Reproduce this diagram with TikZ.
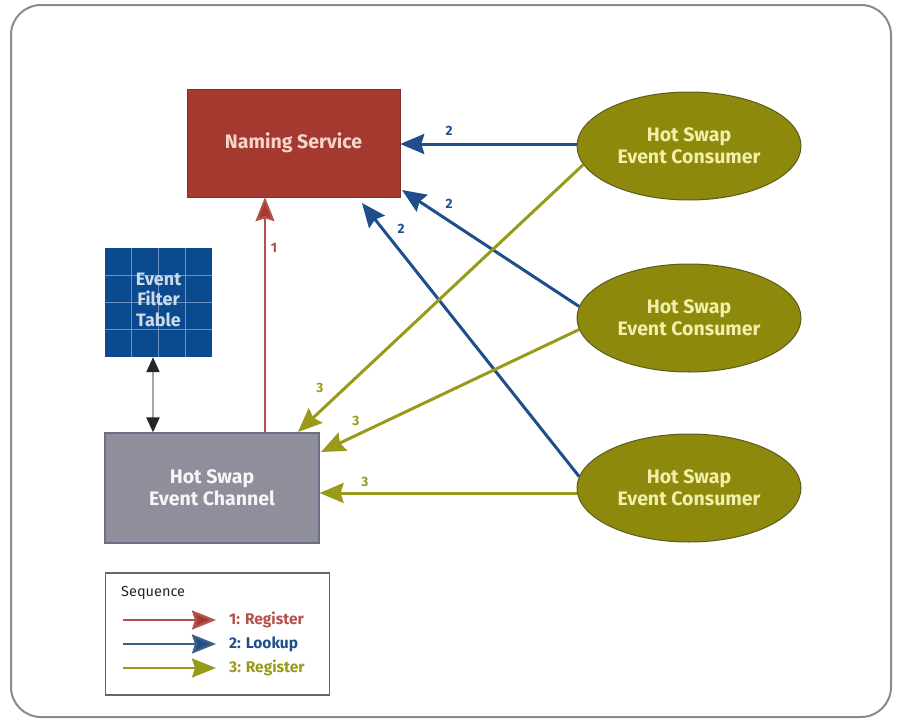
\documentclass[tikz,border=0pt]{standalone}
\usepackage{fontspec}
\setmainfont{Fira Sans}
\usetikzlibrary{arrows.meta,calc,shapes.geometric}
\definecolor{nsred}{HTML}{A43A2F}
\definecolor{nstext}{HTML}{F6D4CC}
\definecolor{ftblue}{HTML}{0B4A8E}
\definecolor{ftline}{HTML}{6E92C4}
\definecolor{chgray}{HTML}{8F8F9C}
\definecolor{chborder}{HTML}{6E6E8A}
\definecolor{elfill}{HTML}{8C890C}
\definecolor{elborder}{HTML}{5E5A1E}
\definecolor{eltext}{HTML}{F2F0A8}
\definecolor{redarr}{HTML}{B5504A}
\definecolor{bluearr}{HTML}{1F4E8C}
\definecolor{olivearr}{HTML}{9A9A1A}
\definecolor{framegray}{HTML}{8A8A8A}
\tikzset{
  boxnode/.style={rectangle, inner sep=0pt, align=center, font=\bfseries\fontsize{19.5}{22}\selectfont},
  consumer/.style={ellipse, fill=elfill, draw=elborder, line width=1pt, minimum width=224pt, minimum height=108pt, inner sep=0pt, align=center, text=eltext, font=\bfseries\fontsize{19.5}{22}\selectfont},
  conn/.style={line width=3pt, -{Stealth[length=24pt,width=20pt,inset=3pt]}},
  redconn/.style={line width=2.2pt, draw=redarr, -{Stealth[length=24pt,width=19pt,inset=3pt,fill=nsred]}},
  blueconn/.style={conn, draw=bluearr},
  oliveconn/.style={conn, draw=olivearr},
  lbl/.style={font=\bfseries\fontsize{13.5}{16}\selectfont, inner sep=0pt},
  legtext/.style={font=\bfseries\fontsize{15.5}{18}\selectfont, anchor=west, inner sep=0pt}
}
\begin{document}
\begin{tikzpicture}[x=1pt,y=-1pt]
\useasboundingbox (0,0) rectangle (897,720);
% frame
\draw[framegray, line width=2pt, rounded corners=30pt] (11,5) rectangle (891,717);

% nodes
\node[boxnode, fill=nsred, draw=nsred!80!black, line width=0.5pt, minimum width=213pt, minimum height=108pt, text=nstext] (ns) at (293.5,143) {Naming Service};
\node[boxnode, fill=ftblue, minimum width=107pt, minimum height=109pt] (ft) at (158.5,302.5) {};
\foreach \i in {1,2,3}{
  \draw[ftline, line width=0.8pt] ($(ft.north west)!\i/4!(ft.north east)$) -- ($(ft.south west)!\i/4!(ft.south east)$);
  \draw[ftline, line width=0.8pt] ($(ft.north west)!\i/4!(ft.south west)$) -- ($(ft.north east)!\i/4!(ft.south east)$);
}
\node[align=center, text=white!80!ftblue, font=\bfseries\fontsize{18}{20.5}\selectfont] (ftlabel) at (ft.center) [yshift=3pt] {Event\\Filter\\Table};
\node[boxnode, fill=chgray, draw=chborder, line width=1.2pt, minimum width=214pt, minimum height=110pt, text=white!92!chgray] (ch) at (212,488) {Hot Swap\\Event Channel};

\node[consumer] (c1) at (689,146) {Hot Swap\\Event Consumer};
\node[consumer] (c2) at (689,318) {Hot Swap\\Event Consumer};
\node[consumer] (c3) at (689,488) {Hot Swap\\Event Consumer};

% connector endpoints
\coordinate (nsE) at (ns.east |- 0,144);
\coordinate (nsSE) at (402,190);
\coordinate (nsB3) at (362,203);
\coordinate (chT) at (298,432);
\coordinate (chR2) at (321,452);

% red
\draw[redconn] (ch.north -| 265,0) -- (ns.south -| 265,0);
\node[lbl, text=redarr] (l1) at (274,248) {1};
% blue
\draw[blueconn] (c1.west |- 0,144) -- (nsE);
\node[lbl, text=bluearr] (l2a) at (449,131) {2};
\draw[blueconn] (c2.174) -- (nsSE);
\node[lbl, text=bluearr] (l2b) at (449,204) {2};
\draw[blueconn] (c3.174) -- (nsB3);
\node[lbl, text=bluearr] (l2c) at (401,229) {2};
% olive
\draw[oliveconn] (c1.190) -- (chT);
\node[lbl, text=olivearr] (l3a) at (320,388) {3};
\draw[oliveconn] (c2.186) -- (chR2);
\node[lbl, text=olivearr] (l3b) at (356,421) {3};
\draw[oliveconn] (c3.west |- 0,493) -- (ch.east |- 0,493);
\node[lbl, text=olivearr] (l3c) at (365,482) {3};

% double arrow
\draw[gray!70, line width=2.2pt, {Triangle[length=15pt,width=13pt,color=black!85]}-{Triangle[length=15pt,width=13pt,color=black!85]}] (ft.south -| 153,0) -- (ch.north -| 153,0);

% legend
\node[draw=gray!80!black, line width=1.5pt, minimum width=224pt, minimum height=122pt, inner sep=0pt] (leg) at (217.5,634) {};
\node[anchor=west, inner sep=0pt, font=\fontsize{14.5}{16}\selectfont, text=black!85] (seqt) at (121,593) {Sequence};
\coordinate (la1) at (123,620); \coordinate (lb1) at (216,620);
\coordinate (la2) at (123,644); \coordinate (lb2) at (216,644);
\coordinate (la3) at (123,668); \coordinate (lb3) at (216,668);
\draw[line width=2.5pt, draw=redarr, -{Stealth[length=24pt,width=19pt,inset=3pt,fill=nsred]}] (la1) -- (lb1);
\draw[line width=2.5pt, draw=bluearr!70!gray, -{Stealth[length=24pt,width=19pt,inset=3pt,fill=bluearr]}] (la2) -- (lb2);
\draw[line width=2.5pt, draw=olivearr, -{Stealth[length=24pt,width=19pt,inset=3pt]}] (la3) -- (lb3);
\node[legtext, text=redarr] (lt1) at (229,620) {1: Register};
\node[legtext, text=bluearr] (lt2) at (229,644) {2: Lookup};
\node[legtext, text=olivearr] (lt3) at (229,668) {3: Register};
\end{tikzpicture}
\end{document}
